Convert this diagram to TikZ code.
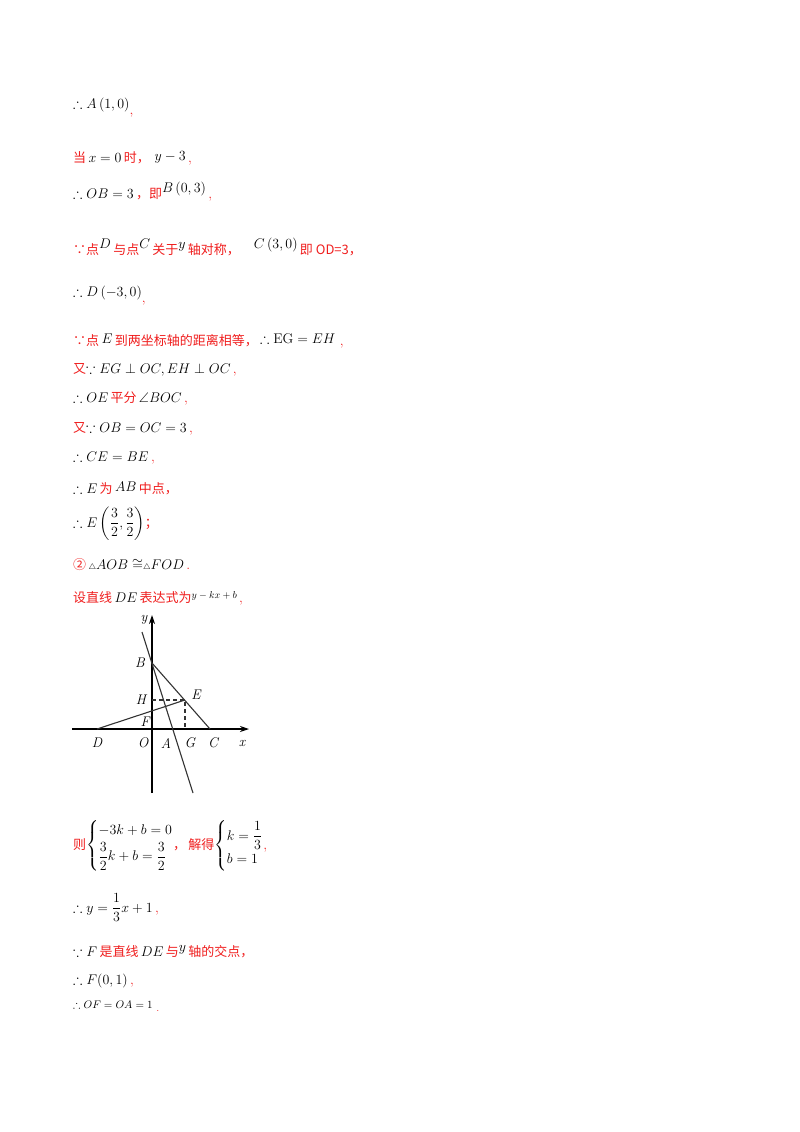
\documentclass[tikz,border=0pt]{standalone}
\usepackage{fix-cm}
\usepackage{amsmath,amssymb}
\usepackage{fontspec}
\newfontfamily\cjk{Noto Sans CJK SC}
\usetikzlibrary{arrows.meta}
\definecolor{hred}{RGB}{240,30,30}
\newcommand{\zh}[1]{{\color{hred}\cjk\fontsize{13}{15}\selectfont #1}}
\newcommand{\rc}[1]{{\color{hred}#1}}
\begin{document}
\begin{tikzpicture}[x=1pt,y=-1pt,
  ln/.style={anchor=base west,inner sep=0pt,font=\fontsize{14}{16}\selectfont},
  lbl/.style={inner sep=0pt,font=\fontsize{14}{16}\selectfont\itshape},
  ax/.style={line width=1.1pt,-{Stealth[length=9pt,width=6pt]}},
  seg/.style={line width=1.1pt,black!80}]
\useasboundingbox (0,0) rectangle (800,1132);
\fill[white] (0,0) rectangle (800,1132);
\node[ln] (l1) at (73,108) {$\therefore A\left(1,0\right)$\rc{\raisebox{-6pt}{,}}};
\node[ln] (l2) at (73,162) {\zh{当}$\,x=0\,$\zh{时，}\ \raisebox{2pt}{$y-3$}\,\rc{,}};
\node[ln] (l3) at (73,198) {$\therefore OB=3$\,\zh{，即}\raisebox{6pt}{$B\left(0,3\right)$}\,\rc{,}};
\node[ln] (l4) at (73,254) {\zh{∵点}\raisebox{6pt}{$D$}\,\zh{与点}\raisebox{6pt}{$C$}\,\zh{关于}\raisebox{6pt}{$y$}\,\zh{轴对称，}\quad\raisebox{6pt}{$C\left(3,0\right)$}\,\zh{即 OD=3，}};
\node[ln] (l5) at (73,296) {$\therefore D\left(-3,0\right)$\rc{\raisebox{-6pt}{,}}};
\node[ln] (l6) at (73,345) {\zh{∵点}\,\raisebox{2pt}{$E$}\,\zh{到两坐标轴的距离相等，}\,\raisebox{2pt}{$\therefore \mathrm{EG}=EH$}\ \rc{,}};
\node[ln] (l7) at (73,373) {\zh{又}$\because EG\perp OC,EH\perp OC$\,\rc{,}};
\node[ln] (l8) at (73,402) {$\therefore OE$\,\zh{平分}\,$\angle BOC$\,\rc{,}};
\node[ln] (l9) at (73,432) {\zh{又}$\because OB=OC=3$\,\rc{,}};
\node[ln] (l10) at (73,461) {$\therefore CE=BE$\,\rc{,}};
\node[ln] (l11) at (73,493) {$\therefore E$\,\zh{为}\,\raisebox{2pt}{$AB$}\,\zh{中点，}};
\node[ln] (l12) at (73,527) {$\therefore E\left(\dfrac32,\dfrac32\right)$\zh{；}};
\node[ln] (l13) at (73,569) {\zh{②}\,{\fontsize{8}{8}\selectfont$\triangle$}$AOB\cong${\fontsize{8}{8}\selectfont$\triangle$}$FOD$\,\rc{.}};
\node[ln] (l14) at (73,602) {\zh{设直线}\,$DE$\,\zh{表达式为}\raisebox{4pt}{\fontsize{10}{12}\selectfont$y-kx+b$}\,\rc{,}};
% figure
\coordinate (Ot) at (152,793);
\coordinate (Yt) at (152,615);
\coordinate (Xl) at (72,729);
\coordinate (Xr) at (249,729);
\coordinate (B) at (152,663);
\coordinate (C) at (210,729);
\coordinate (E) at (185,700);
\coordinate (D) at (97,729);
\coordinate (H) at (152,700);
\coordinate (G) at (185,729);
\coordinate (L1) at (142,632);
\coordinate (L2) at (193,793);
\draw[ax] (Ot) -- (Yt);
\draw[ax] (Xl) -- (Xr);
\draw[seg] (B) -- (C);
\draw[seg] (D) -- (E);
\draw[seg] (L1) -- (L2);
\draw[seg,dash pattern=on 4pt off 3pt] (H) -- (E) -- (G);
\node[lbl] (ty) at (144,620) {y};
\node[lbl] (tB) at (140,663) {B};
\node[lbl] (tH) at (141,700) {H};
\node[lbl] (tE) at (196,695) {E};
\node[lbl] (tF) at (145,722) {F};
\node[lbl] (tD) at (97,743) {D};
\node[lbl] (tO) at (143,743) {O};
\node[lbl] (tA) at (166,743) {A};
\node[lbl] (tG) at (190,743) {G};
\node[lbl] (tC) at (213,743) {C};
\node[lbl] (tx) at (242,743) {x};
% after figure
\node[ln] (l15) at (73,849) {\zh{则}$\begin{cases}-3k+b=0\\[2pt] \dfrac32k+b=\dfrac32\end{cases}\!\!\!\!\!\!$\zh{，\,解得}$\begin{cases}k=\dfrac13\\[4pt] b=1\end{cases}\!\!\!\!\!\!$\rc{,}};
\node[ln] (l16) at (73,912) {$\therefore y=\dfrac13x+1$\,\rc{,}};
\node[ln] (l17) at (73,956) {$\because F$\,\zh{是直线}\,$DE$\,\zh{与}\raisebox{5pt}{$y$}\,\zh{轴的交点，}};
\node[ln] (l18) at (73,984) {$\therefore F(0,1)$\,\rc{,}};
\node[ln,font=\fontsize{11}{12}\selectfont] (l19) at (73,1008) {$\therefore OF=OA=1$\ \rc{\raisebox{-3pt}{.}}};
\end{tikzpicture}
\end{document}
